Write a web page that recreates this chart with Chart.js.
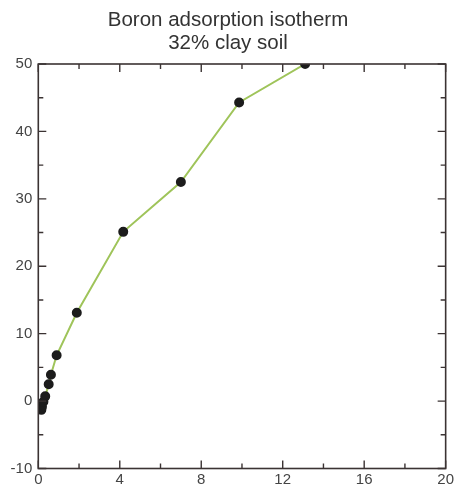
<!DOCTYPE html>
<html>
<head>
<meta charset="utf-8">
<script src="https://cdn.jsdelivr.net/npm/chart.js@4/dist/chart.umd.min.js"></script>
<style>
  html, body { margin: 0; padding: 0; background: #fff; }
  #wrap { position: relative; width: 456px; height: 494px; }
</style>
</head>
<body>
<div id="wrap"><canvas id="chart"></canvas></div>
<script>
// Boron adsorption isotherm data
const titleLines = ['Boron adsorption isotherm', '32% clay soil'];
const xValues = [0.15, 0.18, 0.25, 0.34, 0.51, 0.62, 0.9, 1.89, 4.17, 7.0, 9.86, 13.1];
const yValues = [-1.3, -0.85, -0.1, 0.7, 2.5, 3.9, 6.8, 13.1, 25.1, 32.5, 44.3, 50];
const xTicks = [0, 4, 8, 12, 16, 20];
const yTicks = [-10, 0, 10, 20, 30, 40, 50];

const frameColor = '#3b3333';

// frame, inward ticks and the title
const framePlugin = {
    id: 'frame',
    afterDraw(chart) {
        const ctx = chart.ctx;
        const a = chart.chartArea;
        const xs = chart.scales.x;
        const ys = chart.scales.y;
        ctx.save();
        ctx.strokeStyle = frameColor;
        ctx.lineWidth = 1.6;
        ctx.strokeRect(a.left, a.top, a.right - a.left, a.bottom - a.top);

        ctx.lineWidth = 1.4;
        ctx.beginPath();
        for (let v = 0; v <= 20; v += 2) {
            const px = xs.getPixelForValue(v);
            const len = v % 4 === 0 ? 8 : 5;
            ctx.moveTo(px, a.bottom); ctx.lineTo(px, a.bottom - len);
            ctx.moveTo(px, a.top); ctx.lineTo(px, a.top + len);
        }
        for (let v = -10; v <= 50; v += 5) {
            const py = ys.getPixelForValue(v);
            const len = v % 10 === 0 ? 8 : 5;
            ctx.moveTo(a.left, py); ctx.lineTo(a.left + len, py);
            ctx.moveTo(a.right, py); ctx.lineTo(a.right - len, py);
        }
        ctx.stroke();

        ctx.fillStyle = '#333';
        ctx.font = '20.5px "Liberation Sans", Arial, sans-serif';
        ctx.textAlign = 'center';
        ctx.textBaseline = 'middle';
        ctx.fillText(titleLines[0], 228, 20);
        ctx.fillText(titleLines[1], 228, 43);
        ctx.restore();
    }
};

const ctx = document.getElementById('chart').getContext('2d');
new Chart(ctx, {
    type: 'line',
    data: {
        datasets: [{
            data: xValues.map((x, i) => ({ x: x, y: yValues[i] })),
            borderColor: '#9fc45a',
            borderWidth: 2,
            pointBackgroundColor: '#1c1c1c',
            pointBorderColor: '#1c1c1c',
            pointRadius: 4,
            tension: 0,
            fill: false
        }]
    },
    options: {
        responsive: true,
        maintainAspectRatio: false,
        animation: false,
        layout: { padding: { top: 64, right: 10, left: 0, bottom: 0 } },
        plugins: {
            legend: { display: false },
            tooltip: { enabled: false }
        },
        scales: {
            x: {
                type: 'linear',
                min: 0,
                max: 20,
                afterBuildTicks: s => { s.ticks = xTicks.map(v => ({ value: v })); },
                afterFit: s => { s.height = 25.5; },
                grid: { display: false, drawTicks: false },
                border: { display: false },
                ticks: { color: '#444', padding: 2, font: { size: 15, family: 'Liberation Sans' } }
            },
            y: {
                type: 'linear',
                min: -10,
                max: 50,
                afterBuildTicks: s => { s.ticks = yTicks.map(v => ({ value: v })); },
                afterFit: s => { s.width = 38.3; },
                grid: { display: false, drawTicks: false },
                border: { display: false },
                ticks: { color: '#444', padding: 6, font: { size: 15, family: 'Liberation Sans' } }
            }
        }
    },
    plugins: [framePlugin]
});
</script>
</body>
</html>
